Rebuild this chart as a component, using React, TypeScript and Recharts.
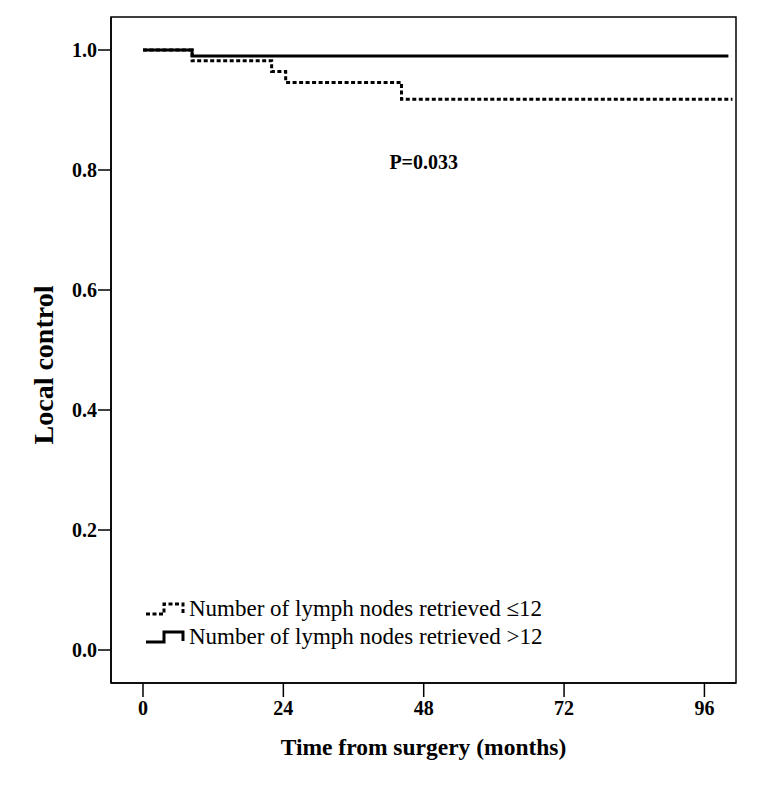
import React from 'react';
import { LineChart, Line, XAxis, YAxis, ReferenceArea, ReferenceDot } from 'recharts';

// Kaplan–Meier step data (months, proportion)
const timeLe12 = [0, 8.4, 22, 24.4, 44.2, 100.8];
const survLe12 = [1, 0.982, 0.964, 0.946, 0.918, 0.918];
const timeGt12 = [0, 8.4, 100.1];
const survGt12 = [1, 0.99, 0.99];

const xTicks = [0, 24, 48, 72, 96];
const yTicks = [0, 0.2, 0.4, 0.6, 0.8, 1.0];
const xDomain = [-5.47, 101.4];
const yDomain = [-0.055, 1.055];

const seriesLabels = ['Number of lymph nodes retrieved \u226412', 'Number of lymph nodes retrieved >12'];
const pValueText = 'P=0.033';
const xTitle = 'Time from surgery (months)';
const yTitle = 'Local control';

const dataLe12 = timeLe12.map((t, i) => ({ t, s: survLe12[i] }));
const dataGt12 = timeGt12.map((t, i) => ({ t, s: survGt12[i] }));

const FONT = '"Liberation Serif", "Times New Roman", serif';

const tickStyle = { fontFamily: FONT, fontWeight: 700, fontSize: 20, fill: '#000' };

function LegendIcon({ dashed }: { dashed: boolean }) {
  return (
    <svg width={44} height={16} style={{ display: 'block' }}>
      <path
        d="M1,13 H19 V3 H38 V12"
        fill="none"
        stroke="#000"
        strokeWidth={3}
        strokeDasharray={dashed ? '4 2.5' : undefined}
      />
    </svg>
  );
}

function YTitle(props: any) {
  const vb = props.viewBox || { x: 0, y: 0, width: 0, height: 0 };
  const cx = vb.x - 8;
  const cy = vb.y + vb.height / 2 + 15;
  return (
    <text
      x={cx}
      y={cy}
      transform={`rotate(-90 ${cx} ${cy})`}
      textAnchor="middle"
      dominantBaseline="central"
      fontFamily={FONT}
      fontWeight={700}
      fontSize={28}
      fill="#000"
    >
      {yTitle}
    </text>
  );
}

export default function App() {
  return (
    <div style={{ position: 'relative', width: 750, height: 777 }}>
      <LineChart
        width={750}
        height={777}
        margin={{ top: 9, right: 22, left: 43, bottom: 42 }}
      >
        <XAxis
          type="number"
          dataKey="t"
          domain={xDomain}
          ticks={xTicks}
          allowDataOverflow
          height={60}
          axisLine={{ stroke: '#000', strokeWidth: 1.5 }}
          tickLine={{ stroke: '#000', strokeWidth: 1.5 }}
          tickSize={14}
          tickMargin={4}
          tick={tickStyle}
          label={{
            value: xTitle,
            position: 'insideBottom',
            offset: -12,
            style: { fontFamily: FONT, fontWeight: 700, fontSize: 23.5, fill: '#000' },
          }}
        />
        <YAxis
          type="number"
          dataKey="s"
          domain={yDomain}
          ticks={yTicks}
          allowDataOverflow
          width={60}
          axisLine={{ stroke: '#000', strokeWidth: 1.5 }}
          tickLine={{ stroke: '#000', strokeWidth: 1.5 }}
          tickSize={13}
          tickMargin={1}
          tick={tickStyle}
          tickFormatter={(v: number) => v.toFixed(1)}
          label={<YTitle />}
        />
        <ReferenceArea
          x1={xDomain[0]}
          x2={xDomain[1]}
          y1={yDomain[0]}
          y2={yDomain[1]}
          fill="none"
          stroke="#000"
          strokeWidth={1.5}
          ifOverflow="visible"
        />
        <Line
          data={dataGt12}
          dataKey="s"
          type="stepAfter"
          stroke="#000"
          strokeWidth={3}
          dot={false}
          activeDot={false}
          isAnimationActive={false}
        />
        <Line
          data={dataLe12}
          dataKey="s"
          type="stepAfter"
          stroke="#000"
          strokeWidth={3}
          strokeDasharray="4 2.5"
          dot={false}
          activeDot={false}
          isAnimationActive={false}
        />
        <ReferenceDot
          x={48}
          y={0.813}
          r={1}
          fill="none"
          stroke="none"
          label={{
            value: pValueText,
            position: 'center',
            fontFamily: FONT,
            fontWeight: 700,
            fontSize: 20,
            fill: '#000',
          }}
        />
      </LineChart>
      <div
        style={{
          position: 'absolute',
          left: 137,
          top: 587,
          fontFamily: FONT,
          fontSize: 23,
          lineHeight: '28px',
          color: '#000',
        }}
      >
        {seriesLabels.map((lab, i) => (
          <div key={lab} style={{ display: 'flex', alignItems: 'center', whiteSpace: 'nowrap' }}>
            <LegendIcon dashed={i === 0} />
            <span>{lab}</span>
          </div>
        ))}
      </div>
    </div>
  );
}
